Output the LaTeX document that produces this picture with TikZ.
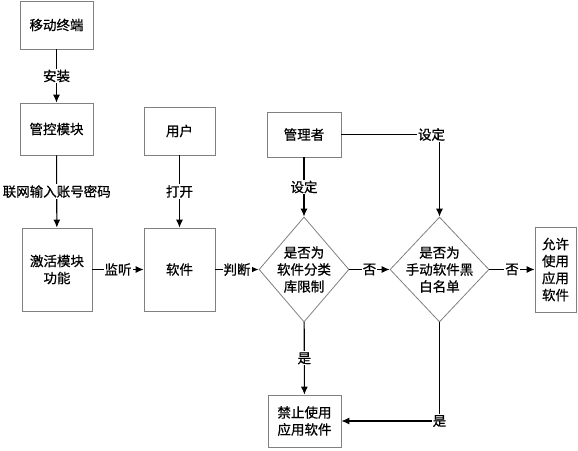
\documentclass[tikz,border=0pt]{standalone}
\usepackage{fontspec}
\setmainfont[FakeBold=0.7]{Noto Sans CJK SC}
\usetikzlibrary{shapes.geometric,arrows.meta}

\begin{document}
\begin{tikzpicture}[x=1pt,y=-1pt,
  box/.style={draw=gray,line width=0.8pt,align=center,inner sep=1pt},
  dec/.style={draw=gray,line width=0.8pt,diamond,inner sep=0pt},
  flow/.style={line width=1.1pt,-{Latex[length=8pt,width=7pt]}},
  lab/.style={fill=white,inner sep=1pt}]
\useasboundingbox (0,0) rectangle (578,450);
\fontsize{13.5}{17}\selectfont
% boxes
\node[box,minimum width=73pt,minimum height=48pt] (term) at (56.5,25) {移动终端};
\node[box,minimum width=73pt,minimum height=52pt] (ctrl) at (56.5,129) {管控模块};
\node[box,minimum width=70pt,minimum height=83pt] (act) at (57,269.5) {激活模块\\功能};
\node[box,minimum width=71pt,minimum height=48pt] (user) at (179.5,131) {用户};
\node[box,minimum width=71pt,minimum height=83pt] (soft) at (179.5,269.5) {软件};
\node[box,minimum width=74pt,minimum height=45pt] (mgr) at (304,134.5) {管理者};
\node[box,minimum width=41pt,minimum height=85pt] (allow) at (555.5,269.5) {允许\\使用\\应用\\软件};
\node[box,minimum width=73pt,minimum height=52pt] (ban) at (304.5,421) {禁止使用\\应用软件};
% decisions
\node[dec,minimum width=90pt,minimum height=105pt] (d1) at (304,269.5) {};
\node[align=center] (d1t) at (d1) {是否为\\软件分类\\库限制};
\node[dec,minimum width=99pt,minimum height=105pt] (d2) at (439.5,269.5) {};
\node[align=center] (d2t) at (d2) {是否为\\手动软件黑\\白名单};
% connectors
\draw[flow] (term) -- node[lab]{安装} (ctrl);
\draw[flow] (ctrl) -- node[lab]{联网输入账号密码} (act);
\draw[flow] (user) -- node[lab]{打开} (soft);
\draw[flow] (act) -- node[lab]{监听} (soft);
\draw[flow] (soft) -- node[lab]{判断} (d1);
\draw[flow] (mgr) -- node[lab]{设定} (d1);
\draw[flow] (mgr) -| node[lab,pos=0.5,xshift=-8pt]{设定} (d2);
\draw[flow] (d1) -- node[lab]{否} (d2);
\draw[flow] (d2) -- node[lab]{否} (allow);
\draw[flow] (d1) -- node[lab]{是} (ban);
\draw[flow] (d2.south) |- node[lab,pos=0.5]{是} (ban);
\end{tikzpicture}
\end{document}
